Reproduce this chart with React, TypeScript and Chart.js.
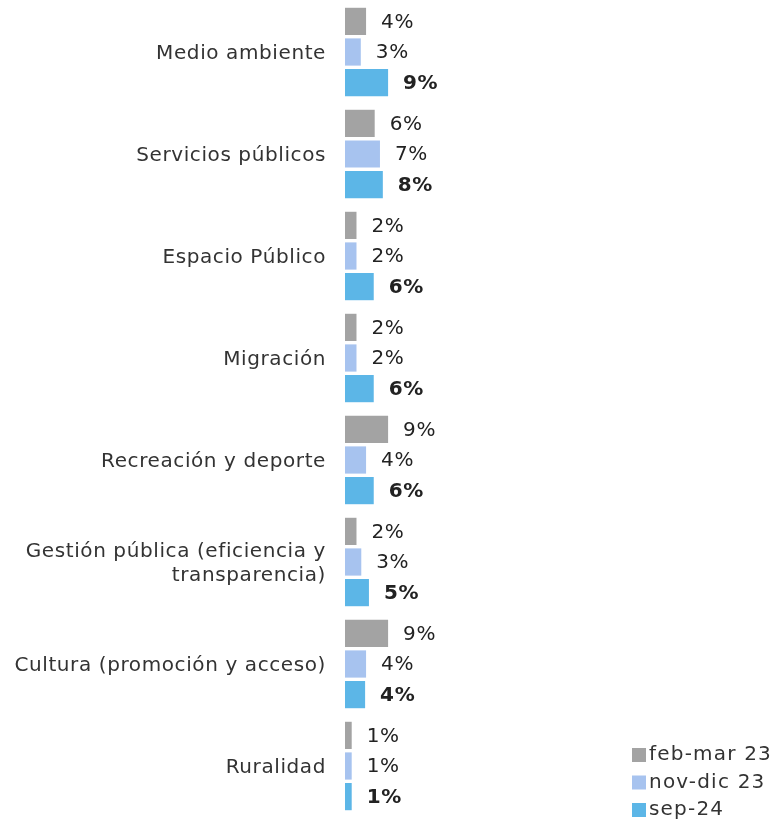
import React, { useEffect, useRef } from "react";
import { Chart, registerables } from "chart.js";

Chart.register(...registerables);

const categories: (string | string[])[] = [
  "Medio ambiente",
  "Servicios públicos",
  "Espacio Público",
  "Migración",
  "Recreación y deporte",
  ["Gestión pública (eficiencia y", "transparencia)"],
  "Cultura (promoción y acceso)",
  "Ruralidad",
];

const seriesNames = ["feb-mar 23", "nov-dic 23", "sep-24"];
const febMar23 = [4.4, 6.2, 2.4, 2.4, 9.0, 2.4, 9.0, 1.4];
const novDic23 = [3.3, 7.3, 2.4, 2.4, 4.4, 3.4, 4.4, 1.4];
const sep24 = [9.0, 7.9, 6.0, 6.0, 6.0, 5.0, 4.2, 1.4];

const colors = ["#A3A3A3", "#A7C3EF", "#5CB6E7"];
const FONT = "'DejaVu Sans', sans-serif";
const SPACING = "0.6px";

const spacing = {
  id: "spacing",
  beforeLayout(chart: any) {
    chart.ctx.letterSpacing = SPACING;
  },
  beforeDraw(chart: any) {
    chart.ctx.letterSpacing = SPACING;
  },
};

const valueLabels = {
  id: "valueLabels",
  afterDatasetsDraw(chart: any) {
    const ctx = chart.ctx;
    ctx.save();
    ctx.letterSpacing = SPACING;
    ctx.textBaseline = "middle";
    ctx.textAlign = "left";
    chart.data.datasets.forEach((ds: any, di: number) => {
      const meta = chart.getDatasetMeta(di);
      ctx.font = (di === 2 ? "bold " : "") + "20px " + FONT;
      ctx.fillStyle = "#222222";
      meta.data.forEach((bar: any, i: number) => {
        const v = ds.data[i];
        ctx.fillText(Math.round(v) + "%", bar.x + 15, bar.y + 1);
      });
    });
    ctx.restore();
  },
};

// Legend drawn in the bottom-right corner, from the datasets' own labels and colours
const cornerLegend = {
  id: "cornerLegend",
  afterDraw(chart: any) {
    const ctx = chart.ctx;
    const n = chart.data.datasets.length;
    const rowH = 27.5;
    const box = 14;
    const left = chart.width - 148;
    const lastCenter = chart.height - 11;
    ctx.save();
    ctx.letterSpacing = "1.2px";
    ctx.font = "20px " + FONT;
    ctx.textBaseline = "middle";
    ctx.textAlign = "left";
    chart.data.datasets.forEach((ds: any, i: number) => {
      const cy = lastCenter - (n - 1 - i) * rowH;
      ctx.fillStyle = ds.backgroundColor;
      ctx.fillRect(left, cy - box / 2, box, box);
      ctx.fillStyle = "#333333";
      ctx.fillText(ds.label, left + box + 3, cy);
    });
    ctx.restore();
  },
};

export default function App() {
  const ref = useRef<HTMLCanvasElement>(null);
  useEffect(() => {
    if (!ref.current) return;
    const chart = new Chart(ref.current, {
      type: "bar",
      data: {
        labels: categories,
        datasets: [febMar23, novDic23, sep24].map((d, i) => ({
          label: seriesNames[i],
          data: d,
          backgroundColor: colors[i],
          categoryPercentage: 0.9,
          barPercentage: 0.89,
        })),
      },
      options: {
        indexAxis: "y",
        animation: false,
        responsive: false,
        maintainAspectRatio: false,
        layout: { padding: { top: 1, bottom: 4, left: 0, right: 4 } },
        scales: {
          x: {
            display: false,
            min: 0,
            max: 90,
          },
          y: {
            grid: { display: false },
            border: { display: false },
            ticks: {
              color: "#333333",
              font: { family: FONT, size: 20 },
              padding: 11,
              labelOffset: 2,
              autoSkip: false,
            },
            afterFit(scale: any) {
              scale.width = 345;
              scale.paddingTop = 0;
              scale.paddingBottom = 0;
            },
          },
        },
        plugins: {
          legend: { display: false },
          tooltip: { enabled: false },
        },
      },
      plugins: [spacing, valueLabels, cornerLegend],
    });
    return () => chart.destroy();
  }, []);
  return (
    <div style={{ position: "fixed", left: 0, top: 0, width: 780, height: 821, background: "#fff" }}>
      <canvas ref={ref} width={780} height={821} />
    </div>
  );
}
